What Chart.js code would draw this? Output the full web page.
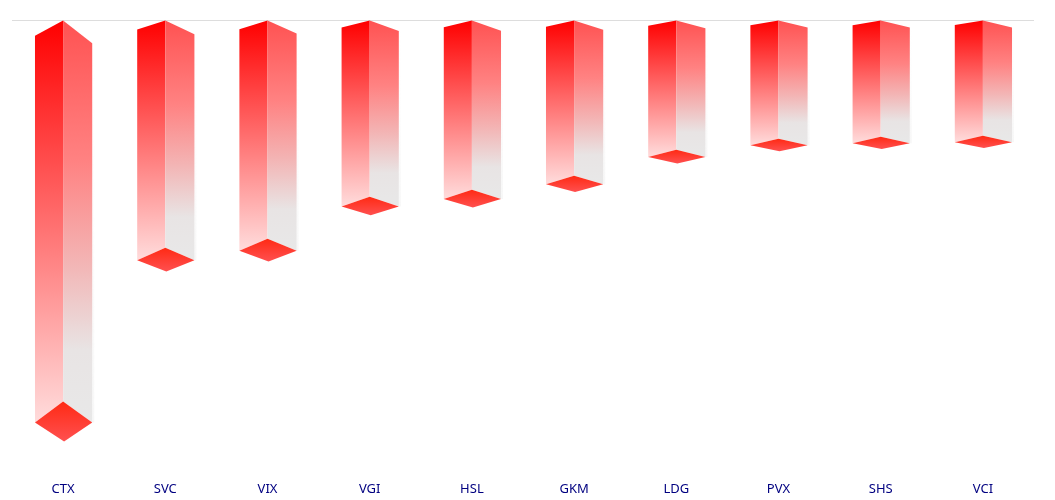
<!DOCTYPE html>
<html>
<head>
<meta charset="utf-8">
<title>Chart</title>
<script src="https://cdn.jsdelivr.net/npm/chart.js@4"></script>
<style>
  html, body { margin: 0; padding: 0; background: #fff; }
  canvas { display: block; }
</style>
</head>
<body>
<canvas id="myChart" width="1055" height="500"></canvas>
<script>
const categories = ["CTX", "SVC", "VIX", "VGI", "HSL", "GKM", "LDG", "PVX", "SHS", "VCI"];
// no axis in the picture, so the values are the bar lengths as read off it
const values = [382, 228, 219, 177, 170, 156, 130, 119, 117, 116];

const linear = (ctx, top, bottom, stops) => {
    let g = ctx.createLinearGradient(0, top, 0, bottom);
    stops.forEach(s => g.addColorStop(s[0], s[1]));
    return g;
}

const poly = (ctx, points, fill) => {
    ctx.beginPath();
    points.forEach((p, i) => i ? ctx.lineTo(p[0], p[1]) : ctx.moveTo(p[0], p[1]));
    ctx.closePath();
    ctx.fillStyle = fill;
    ctx.fill();
}

// the 3d look: two side faces and a diamond tip, built on each bar element
const prism = {
    id: "prism",
    afterDatasetsDraw(chart) {
        const ctx = chart.ctx;
        chart.getDatasetMeta(0).data.forEach((bar) => {
            const cx = bar.x;
            const left = cx - bar.width / 2 + 0.5;
            const right = cx + bar.width / 2 + 0.5;
            const top = bar.base;
            const tip = bar.y;
            const h = tip - top;
            const leftTop = top + h * 0.04;
            const rightTop = top + h * 0.06;
            const side = tip + h * 0.055;
            const end = tip + h * 0.105;

            // soft edge on the outer side
            poly(ctx, [[right, rightTop], [right + 2, rightTop], [right + 2, side], [right, side]],
                linear(ctx, top, side, [[0, "rgba(235,235,235,0)"], [0.5, "rgba(235,235,235,0.1)"], [1, "rgba(235,235,235,0.4)"]]));
            poly(ctx, [[cx, top], [left, leftTop], [left, side], [cx, tip]],
                linear(ctx, top, side, [[0, "#ff0000"], [1, "#ffdcdc"]]));
            poly(ctx, [[cx, top], [right, rightTop], [right, side], [cx, tip]],
                linear(ctx, top, side, [[0, "#ff5252"], [0.35, "#ff8282"], [0.6, "#f3b4b4"], [0.82, "#e8e4e4"], [1, "#e8e8e8"]]));
            poly(ctx, [[cx, tip], [left, side], [cx + 1, end], [right, side]],
                linear(ctx, tip, end, [[0, "#ff2a14"], [1, "#ff5050"]]));
        });
    }
};

let ctx = document.getElementById("myChart");
let myChart = new Chart(ctx, {
    type: "bar",
    data: {
        labels: categories,
        datasets: [{
            data: values,
            backgroundColor: "rgba(0,0,0,0)",
            barPercentage: 0.56,
            categoryPercentage: 1
        }]
    },
    options: {
        responsive: false,
        animation: false,
        layout: { padding: { left: 12, right: 21, top: 20, bottom: 3 } },
        plugins: { legend: { display: false }, tooltip: { enabled: false } },
        scales: {
            x: {
                grid: { display: false },
                border: { display: false },
                ticks: {
                    color: "#000080",
                    padding: 0,
                    maxRotation: 0,
                    font: { family: "'Noto Sans'", size: 13 }
                }
            },
            y: {
                reverse: true,
                min: 0,
                max: 454,
                afterBuildTicks: (axis) => { axis.ticks = [{ value: 0 }]; },
                afterFit: (axis) => { axis.width = 0; },
                ticks: { display: false },
                border: { display: false },
                grid: { color: "#dddddd", drawTicks: false }
            }
        }
    },
    plugins: [prism]
});
</script>
</body>
</html>
